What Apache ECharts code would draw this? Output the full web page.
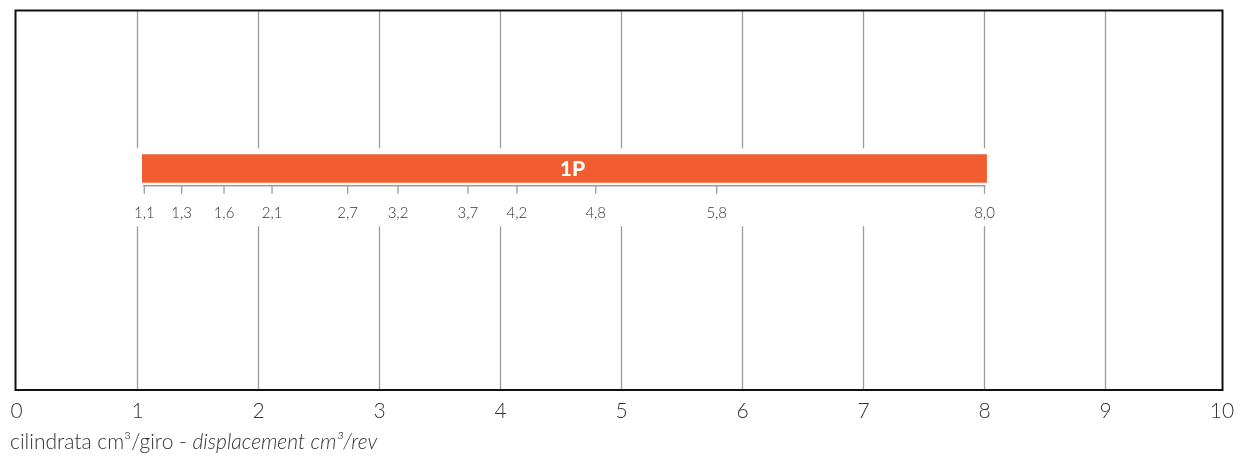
<!DOCTYPE html>
<html>
<head>
<meta charset="utf-8">
<script src="https://cdn.jsdelivr.net/npm/echarts@6/dist/echarts.min.js"></script>
<style>
html,body{margin:0;padding:0;background:#fff;}
#chart{width:1244px;height:458px;}
</style>
</head>
<body>
<div id="chart"></div>
<script>
// ---- data ----
const axisTicks = [0,1,2,3,4,5,6,7,8,9,10];
const gridValues = [1,2,3,4,5,6,7,8,9];
const barName = '1P';
const barRange = [1.037, 8.02];
const tickPositions = [1.056, 1.365, 1.715, 2.112, 2.737, 3.153, 3.731, 4.136, 4.787, 5.787, 8.0];
const tickLabels = ['1,1','1,3','1,6','2,1','2,7','3,2','3,7','4,2','4,8','5,8','8,0'];

// ---- layout (in hidden y-axis units, 0..380) ----
const Y_MAX = 380;
const BAR_BOTTOM = 207.5, BAR_TOP = 236;
const BASE_Y = 204.5, TICK_END = 196.5, LABEL_Y = 177;
const GAP_TOP = 242, GAP_BOTTOM = 164;
const FONT = 'Lato, "Open Sans", "DejaVu Sans", sans-serif';

const chart = echarts.init(document.getElementById('chart'));

function renderGrid(params, api) {
  const v = api.value(0);
  const style = {stroke: '#9c9c9c', lineWidth: 1.3};
  const t = api.coord([v, Y_MAX]);
  const b = api.coord([v, 0]);
  if (v >= Math.floor(barRange[0]) && v <= barRange[1]) {
    const g1 = api.coord([v, GAP_TOP]);
    const g2 = api.coord([v, GAP_BOTTOM]);
    return {type: 'group', children: [
      {type: 'line', shape: {x1: t[0], y1: t[1], x2: g1[0], y2: g1[1]}, style},
      {type: 'line', shape: {x1: g2[0], y1: g2[1], x2: b[0], y2: b[1]}, style}
    ]};
  }
  return {type: 'line', shape: {x1: t[0], y1: t[1], x2: b[0], y2: b[1]}, style};
}

function renderBar(params, api) {
  const p1 = api.coord([api.value(0), BAR_TOP]);
  const p2 = api.coord([api.value(1), BAR_BOTTOM]);
  return {type: 'group', children: [
    {type: 'rect', shape: {x: p1[0], y: p1[1], width: p2[0] - p1[0], height: p2[1] - p1[1]},
     style: {fill: '#f15d31'}},
    {type: 'text', x: (p1[0] + p2[0]) / 2 + 8, y: (p1[1] + p2[1]) / 2 + 1,
     style: {text: barName, fill: '#fff', font: '900 21px ' + FONT, align: 'center', verticalAlign: 'middle'}}
  ]};
}

function renderTick(params, api) {
  const v = api.value(0);
  const idx = params.dataIndex;
  const a = api.coord([v, BASE_Y]);
  const b = api.coord([v, TICK_END]);
  const l = api.coord([v, LABEL_Y]);
  const children = [
    {type: 'line', shape: {x1: a[0], y1: a[1], x2: b[0], y2: b[1]}, style: {stroke: '#9c9c9c', lineWidth: 1.3}},
    {type: 'text', x: l[0], y: l[1],
     style: {text: tickLabels[idx], fill: '#333', font: '300 15px ' + FONT, align: 'center', verticalAlign: 'middle'}}
  ];
  if (idx === 0) {
    const s = api.coord([tickPositions[0], BASE_Y]);
    const e = api.coord([tickPositions[tickPositions.length - 1], BASE_Y]);
    children.push({type: 'line', shape: {x1: s[0] - 1, y1: s[1], x2: e[0] + 1, y2: e[1]},
                   style: {stroke: '#9c9c9c', lineWidth: 1.5}});
  }
  return {type: 'group', children};
}

chart.setOption({
  animation: false,
  title: {
    left: 5, top: 427,
    text: '{a|cilindrata cm³/giro - }{i|displacement cm³/rev}',
    textStyle: {
      rich: {
        a: {fontSize: 21, color: '#333', fontFamily: FONT, fontWeight: 300},
        i: {fontSize: 21, color: '#333', fontFamily: FONT, fontWeight: 300, fontStyle: 'italic'}
      }
    }
  },
  graphic: [{
    type: 'rect', z: 100, silent: true,
    shape: {x: 15.5, y: 10.5, width: 1207, height: 379.5},
    style: {fill: null, stroke: '#111', lineWidth: 2}
  }],
  grid: {left: 16.5, right: 17.5, top: 10.5, bottom: 68},
  xAxis: {
    type: 'value', min: 0, max: 10, interval: 1,
    axisLine: {show: false}, axisTick: {show: false}, splitLine: {show: false},
    axisLabel: {fontSize: 21, color: '#333', fontFamily: FONT, fontWeight: 300, margin: 11,
      formatter: v => axisTicks.includes(v) ? (v === 10 ? '{r|10}' : String(v)) : '',
      rich: {r: {fontSize: 21, color: '#333', fontFamily: FONT, fontWeight: 300, padding: [0, 9, 0, 0]}}}
  },
  yAxis: {type: 'value', min: 0, max: Y_MAX, show: false},
  series: [
    {type: 'custom', renderItem: renderGrid, data: gridValues.map(v => [v]), encode: {x: 0}, z: 1, silent: true},
    {type: 'custom', renderItem: renderBar, data: [barRange], encode: {x: [0, 1]}, z: 3, silent: true},
    {type: 'custom', renderItem: renderTick, data: tickPositions.map(v => [v]), encode: {x: 0}, z: 3, silent: true}
  ]
});
</script>
</body>
</html>
